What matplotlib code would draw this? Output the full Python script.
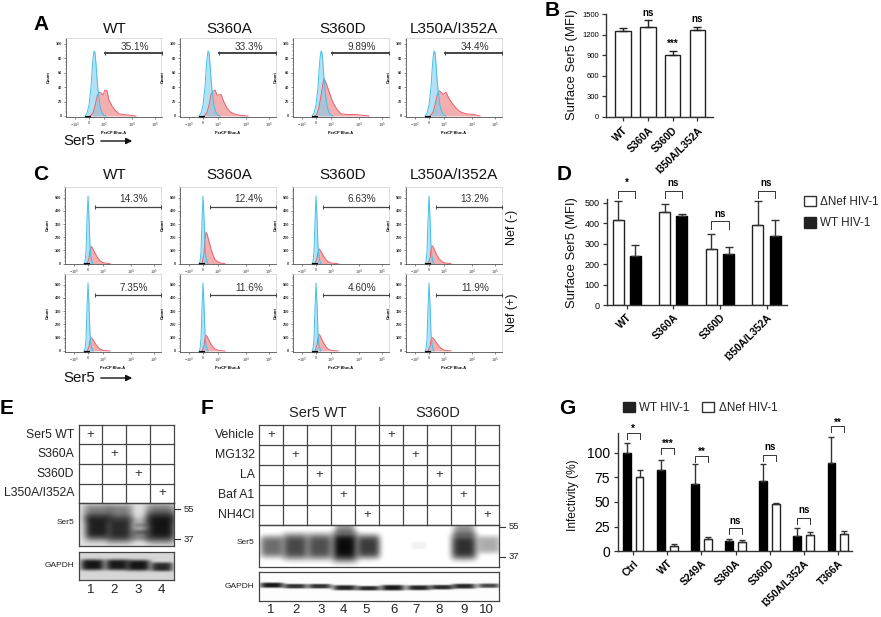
import matplotlib
matplotlib.use("Agg")
import matplotlib.pyplot as plt
from matplotlib.patches import Patch
import numpy as np

plt.rcParams['font.family'] = ['Liberation Sans', 'DejaVu Sans']
plt.rcParams['mathtext.default'] = 'regular'

W, H = 881, 617

# ---- flow histograms, panel A (x = position on the display axis, y = % of max)
a_titles = ["WT", "S360A", "S360D", "L350A/I352A"]
a_gates = ["35.1%", "33.3%", "9.89%", "34.4%"]
a_blue_x = [19, 21, 23, 25, 26, 27, 28, 29, 30, 31, 32, 34, 36, 38, 40]
a_blue_y = [0, 4, 15, 40, 62, 80, 90, 88, 72, 52, 36, 14, 5, 1, 0]
a_red_x_wt = [24, 27, 29, 31, 33, 35, 37, 39, 41, 43, 46, 49, 53, 58, 64, 70]
a_red_y_wt = [0, 4, 14, 27, 33, 32, 29, 36, 35, 22, 14, 8, 3, 2, 1, 0]
a_red_x_a = [24, 27, 29, 31, 33, 35, 37, 39, 41, 44, 47, 50, 54, 60, 68]
a_red_y_a = [0, 5, 15, 30, 34, 36, 29, 29, 30, 19, 11, 6, 3, 1, 0]
a_red_x_d = [22, 24, 26, 28, 30, 31, 33, 35, 37, 39, 41, 44, 48, 54, 62, 70, 76]
a_red_y_d = [0, 3, 12, 28, 45, 52, 46, 38, 30, 22, 16, 9, 3, 2, 2, 1, 0]
a_red_x_l = [24, 27, 29, 31, 33, 35, 37, 39, 40, 42, 44, 46, 50, 54, 60, 68, 74]
a_red_y_l = [0, 5, 15, 28, 35, 33, 30, 32, 33, 27, 22, 18, 11, 6, 3, 2, 0]
a_red = [(a_red_x_wt, a_red_y_wt), (a_red_x_a, a_red_y_a), (a_red_x_d, a_red_y_d), (a_red_x_l, a_red_y_l)]

# ---- flow histograms, panel C (counts)
c_gates_top = ["14.3%", "12.4%", "6.63%", "13.2%"]
c_gates_bottom = ["7.35%", "11.6%", "4.60%", "11.9%"]
c_blue_x = [19, 20, 21, 22, 23, 24, 25, 26, 27, 28]
c_blue_y = [0, 15, 90, 330, 513, 350, 130, 50, 15, 0]
c_red_x = [22, 24, 25, 26, 27, 29, 31, 33, 35, 38, 42, 45]
c_red_top = [[0, 40, 100, 130, 125, 95, 65, 40, 22, 8, 2, 0],
             [0, 80, 190, 240, 225, 170, 110, 65, 30, 12, 3, 0],
             [0, 40, 85, 112, 105, 78, 52, 30, 15, 5, 1, 0],
             [0, 40, 105, 135, 128, 95, 62, 38, 20, 7, 2, 0]]
c_red_bottom = [[0, 30, 80, 100, 95, 72, 48, 28, 14, 5, 1, 0],
                [0, 40, 95, 118, 110, 80, 50, 30, 15, 5, 1, 0],
                [0, 45, 100, 125, 118, 85, 55, 32, 15, 5, 1, 0],
                [0, 35, 80, 102, 98, 78, 55, 35, 20, 7, 2, 0]]

# ---- bar panels
b_labels = ["WT", "S360A", "S360D", "I350A/L352A"]
b_values = [1250, 1310, 910, 1270]
b_errors = [50, 110, 50, 50]
b_marks = ["", "ns", "***", "ns"]

d_labels = ["WT", "S360A", "S360D", "I350A/L352A"]
d_dnef = [415, 455, 275, 390]
d_dnef_err = [95, 40, 75, 122]
d_wt = [240, 435, 250, 338]
d_wt_err = [53, 13, 35, 80]
d_marks = ["*", "ns", "ns", "ns"]
d_bracket_top = [560, 560, 412, 560]

g_labels = ["Ctrl", "WT", "S249A", "S360A", "S360D", "I350A/L352A", "T366A"]
g_wt = [100, 82, 68, 10.5, 71, 15.5, 89]
g_wt_err = [10, 11, 20, 1.5, 17, 8.5, 27]
g_dnef = [75.5, 5, 12, 9, 48, 16.5, 18]
g_dnef_err = [7, 2.5, 2, 2, 1, 3.5, 3]
g_marks = ["*", "***", "**", "ns", "ns", "ns", "**"]
g_bracket_top = [120, 105, 97, 23.3, 98, 34, 126.5]

# ---- blots: darkness of each band, 0 to 1
e_rows = ["Ser5 WT", "S360A", "S360D", "L350A/I352A"]
e_lanes = ["1", "2", "3", "4"]
e_ser5_level = [0.9, 0.85, 0.25, 0.95]
e_gapdh_level = [0.95, 0.93, 0.95, 0.85]
f_rows = ["Vehicle", "MG132", "LA", "Baf A1", "NH4Cl"]
f_lanes = ["1", "2", "3", "4", "5", "6", "7", "8", "9", "10"]
f_ser5_level = [0.6, 0.75, 0.72, 1.0, 0.8, 0, 0.07, 0, 0.85, 0.35]
f_gapdh_level = [0.95, 0.85, 0.85, 0.9, 0.88, 0.95, 0.9, 0.88, 0.88, 0.75]

fig = plt.figure(figsize=(W / 100, H / 100), dpi=100)


def px_axes(l, t, r, b, **kw):
    return fig.add_axes([l / W, 1 - b / H, (r - l) / W, (b - t) / H], **kw)


ov = fig.add_axes([0, 0, 1, 1], zorder=10)
ov.set_xlim(0, W)
ov.set_ylim(H, 0)
ov.axis("off")
ov.patch.set_alpha(0)


def txt(x, y, s, size=10, ha="center", va="center", **kw):
    ov.text(x, y, s, fontsize=size, ha=ha, va=va, color=kw.pop("color", "#111111"), **kw)


for s, x, y in [("A", 41, 25), ("B", 552, 10), ("C", 41, 175), ("D", 564, 175),
                ("E", 7, 409), ("F", 207, 409), ("G", 567, 409)]:
    txt(x, y, s, size=15, fontweight="bold", color="black")


def histogram(left, top, bottom, ylim, yticks, blue, red, gate, gate_x, gate_y, text_y, gate_lw):
    ax = px_axes(left, top, left + 95.5, bottom)
    ax.fill_between(red[0], red[1], color="#f09a9b", alpha=0.8, lw=0)
    ax.plot(red[0], red[1], color="#e8606a", lw=0.7)
    ax.fill_between(blue[0], blue[1], color="#83cfec", alpha=0.62, lw=0)
    ax.plot(blue[0], blue[1], color="#45bfe8", lw=0.7)
    ax.set_xlim(0, 95.5)
    ax.set_ylim(*ylim)
    ax.set_xticks([9, 23, 38, 66, 89])
    ax.set_xticklabels(["$-10^3$", "0", "$10^3$", "$10^4$", "$10^5$"], fontsize=2.8)
    ax.set_yticks(yticks)
    ax.set_yticklabels(yticks, fontsize=2.8, fontweight="bold")
    ax.tick_params(length=1.5, width=0.4, pad=1.5, color="#333333", labelcolor="#333333")
    ax.minorticks_on()
    ax.tick_params(which="minor", length=0.8, width=0.3, color="#444444")
    for side in ["top", "right"]:
        ax.spines[side].set_color("#cccccc")
        ax.spines[side].set_linewidth(0.5)
    for side in ["left", "bottom"]:
        ax.spines[side].set_color("#555555")
        ax.spines[side].set_linewidth(0.6)
    ax.plot([20, 24], [ylim[0], ylim[0]], color="black", lw=1.5, clip_on=False)
    ax.set_xlabel("PerCP Blue-A", fontsize=2.8, fontweight="bold", labelpad=0.5)
    ax.set_ylabel("Count", fontsize=3, fontweight="bold", labelpad=3)
    ov.plot([left + gate_x, left + 95.5], [gate_y, gate_y], color="#444444", lw=gate_lw,
            marker="|", ms=2.5, mew=0.7)
    txt(left + 69, text_y, gate, size=7.2, color="#333333")


a_left = [66, 180, 293, 406]
c_left = [65, 180, 293, 406]
title_x = [115, 229, 343, 454]
for i in range(4):
    txt(title_x[i], 29, a_titles[i], size=11)
    txt(title_x[i], 175, a_titles[i], size=11)
    histogram(a_left[i], 38, 117, (-1.4, 108), [0, 20, 40, 60, 80, 100], (a_blue_x, a_blue_y),
              a_red[i], a_gates[i], 39, 52.7, 47, 1.4)
    histogram(c_left[i], 187, 264, (-3, 581), [0, 100, 200, 300, 400, 500], (c_blue_x, c_blue_y),
              (c_red_x, c_red_top[i]), c_gates_top[i], 30, 207, 199, 0.9)
    histogram(c_left[i], 274, 352, (-8, 581), [0, 100, 200, 300, 400, 500], (c_blue_x, c_blue_y),
              (c_red_x, c_red_bottom[i]), c_gates_bottom[i], 30, 294.7, 288, 0.9)

for y in [141, 378]:
    txt(63, y, "Ser5", size=10.8, ha="left")
    ov.annotate("", xy=(135, y), xytext=(98, y),
                arrowprops=dict(arrowstyle="-|>", color="#111111", lw=1, mutation_scale=9))
txt(512, 227, "Nef (-)", size=9, rotation=90)
txt(512, 313, "Nef (+)", size=9, rotation=90)


def style_bars(ax, labels, ticks):
    for side in ["top", "right"]:
        ax.spines[side].set_visible(False)
    for side in ["left", "bottom"]:
        ax.spines[side].set_linewidth(1)
        ax.spines[side].set_color("#333333")
    ax.set_xticks(ticks)
    ax.set_xticklabels(labels, rotation=45, ha="right", rotation_mode="anchor",
                       fontsize=7.4, fontweight="bold")
    ax.tick_params(width=0.9, length=3, color="#333333", pad=2)
    ax.patch.set_alpha(0)


# ---- B
ax = px_axes(606, 14.3, 713, 116.7)
xb = np.arange(4)
ax.bar(xb, b_values, width=0.63, color="white", edgecolor="#222222", lw=1,
       yerr=[np.zeros(4), b_errors], ecolor="#222222", error_kw=dict(lw=1, capsize=3, capthick=1))
ax.set_xlim(-0.686, 3.63)
ax.set_ylim(0, 1500)
ax.set_yticks([0, 300, 600, 900, 1200, 1500])
style_bars(ax, b_labels, xb)
ax.tick_params(axis="y", labelsize=5.5, pad=2)
ax.tick_params(axis="x", pad=3)
for i, m in enumerate(b_marks):
    top = b_values[i] + b_errors[i]
    ax.text(i, top + 105, m, ha="center", va="center", fontsize=7,
            fontweight="bold", clip_on=False)
txt(572, 65, "Surface Ser5 (MFI)", size=9.4, rotation=90)

# ---- D
ax = px_axes(606.7, 199.3, 787, 305.3)
xd = np.arange(4)
off, wd = 0.186, 0.236
ax.bar(xd - off, d_dnef, width=wd, color="white", edgecolor="#222222", lw=1,
       yerr=[np.zeros(4), d_dnef_err], ecolor="#333333", error_kw=dict(lw=1, capsize=3, capthick=1))
ax.bar(xd + off, d_wt, width=wd, color="black", edgecolor="black", lw=1,
       yerr=[np.zeros(4), d_wt_err], ecolor="#333333", error_kw=dict(lw=1, capsize=3, capthick=1))
ax.set_xlim(-0.43, 3.44)
ax.set_ylim(0, 518)
ax.set_yticks([0, 100, 200, 300, 400, 500])
style_bars(ax, d_labels, xd)
ax.tick_params(axis="y", labelsize=6.5, pad=2)
for i, m in enumerate(d_marks):
    t = d_bracket_top[i]
    ax.plot([i - off, i - off, i + off, i + off], [t - 38, t, t, t - 38], color="#333333", lw=0.7, clip_on=False)
    ax.text(i, t + 36, m, ha="center", va="center", fontsize=7, fontweight="bold", clip_on=False)
txt(572, 253, "Surface Ser5 (MFI)", size=9.4, rotation=90)
leg = [Patch(facecolor="white", edgecolor="#333333", label="\u0394Nef HIV-1"),
       Patch(facecolor="#222222", edgecolor="#222222", label="WT HIV-1")]
fig.legend(handles=leg, loc="upper left", bbox_to_anchor=(804 / W, 1 - 196 / H), frameon=False, fontsize=8.4,
           handlelength=1.0, handleheight=1.0, handletextpad=0.4, labelspacing=0.76, borderpad=0, borderaxespad=0,
           labelcolor="#222222")

# ---- G
ax = px_axes(618.3, 432.7, 851.7, 551.3)
xg = np.arange(7)
off, wd = 0.186, 0.225
ax.bar(xg - off, g_wt, width=wd, color="black", edgecolor="black", lw=1,
       yerr=[np.zeros(7), g_wt_err], ecolor="#333333", error_kw=dict(lw=1, capsize=2.5, capthick=1))
ax.bar(xg + off, g_dnef, width=wd, color="white", edgecolor="#222222", lw=1,
       yerr=[np.zeros(7), g_dnef_err], ecolor="#333333", error_kw=dict(lw=1, capsize=2.5, capthick=1))
ax.set_xlim(-0.44, 6.41)
ax.set_ylim(0, 120.2)
ax.set_yticks([0, 25, 50, 75, 100])
style_bars(ax, g_labels, xg)
ax.tick_params(axis="y", labelsize=10, pad=3)
for i, m in enumerate(g_marks):
    t = g_bracket_top[i]
    ax.plot([i - off, i - off, i + off, i + off], [t - 6, t, t, t - 6], color="#333333", lw=0.7, clip_on=False)
    ax.text(i, t + (7.5 if m == "ns" else 4), m, ha="center", va="center", fontsize=7, fontweight="bold", clip_on=False)
txt(573, 495, "Infectivity (%)", size=8.6, rotation=90)
leg = [Patch(facecolor="#222222", edgecolor="#222222", label="WT HIV-1"),
       Patch(facecolor="white", edgecolor="#333333", label="\u0394Nef HIV-1")]
fig.legend(handles=leg, loc="upper left", bbox_to_anchor=(623 / W, 1 - 402 / H), frameon=False, fontsize=8.4, ncol=2,
           handlelength=1.0, handleheight=1.0, handletextpad=0.4, columnspacing=1.08, borderpad=0, borderaxespad=0,
           labelcolor="#222222")


def grid_table(xs, ys, rows):
    for x in xs:
        ov.plot([x, x], [ys[0], ys[-1]], color="#444444", lw=0.9)
    for y in ys:
        ov.plot([xs[0], xs[-1]], [y, y], color="#444444", lw=0.9)
    for i, row in enumerate(rows):
        txt(xs[0] - 4.5, (ys[i] + ys[i + 1]) / 2, row, size=8.8, ha="right", color="#222222")


def blot(l, t, r, b, levels, lane_x, lane_y, lane_w, lane_h, bg):
    # paint the bands into a small grayscale image
    xx, yy = np.meshgrid(np.arange(l, r, 0.5), np.arange(t, b, 0.5))
    dark = np.zeros_like(xx)
    for lev, cx, cy, w, h in zip(levels, lane_x, lane_y, lane_w, lane_h):
        band = np.exp(-np.abs((xx - cx) / w) ** 4 - np.abs((yy - cy) / h) ** 4)
        dark = 1 - (1 - dark) * (1 - lev * band)
    ax = px_axes(l, t, r, b)
    ax.imshow(bg * (1 - dark) + 0.04, cmap="gray", vmin=0, vmax=1, aspect="auto")
    ax.set_xticks([])
    ax.set_yticks([])
    for s in ax.spines.values():
        s.set_color("#444444")
        s.set_linewidth(0.9)


def marker(x, y, s):
    ov.plot([x, x + 5], [y, y], color="#333333", lw=0.8)
    txt(x + 9, y, s, size=6.8, ha="left", color="#222222")


# ---- E
ex = [78.7, 102.3, 126.3, 150.3, 174]
ey = [425, 444.3, 464, 483.7, 503]
grid_table(ex, ey, e_rows)
ecx = [91, 114, 137.7, 161]
for i in range(4):
    txt((ex[i] + ex[i + 1]) / 2, (ey[i] + ey[i + 1]) / 2, "+", size=9.5, color="#333333")
    txt(ecx[i], 590, e_lanes[i], size=9.5, color="#222222")
blot(78.7, 503, 174, 546,
     e_ser5_level + [0.45, 0.45, 0.3, 0.45, 0.18, 0.18],
     [97, 119, 140, 160, 97, 119, 140, 160, 140, 140],
     [527, 529, 528, 527, 513, 513, 535, 513, 525, 532],
     [13, 13, 10, 15, 14, 13, 11, 15, 6, 6],
     [13, 13, 11, 15, 9, 9, 6, 10, 2, 2], 0.84)
blot(78.7, 551.7, 174, 580, e_gapdh_level, [92, 116.7, 137.5, 161], [565, 565, 565.5, 567], [12, 12, 12, 11],
     [5.5, 5.5, 5.5, 4.5], 0.8)
marker(175, 509, "55")
marker(175, 539, "37")
txt(74, 523, "Ser5", size=6, ha="right", color="#222222")
txt(74, 565.7, "GAPDH", size=6, ha="right", color="#222222")

# ---- F
fx = [259, 283, 307, 331, 355, 379, 403, 427, 451, 475, 499]
fy = [425.3, 445.3, 465.3, 485, 505, 524.7]
grid_table(fx, fy, f_rows)
fcx = [271, 296, 321, 343, 366, 394.3, 415.7, 439.3, 464, 486.7]
for i in range(10):
    txt((fx[i] + fx[i + 1]) / 2, (fy[i % 5] + fy[i % 5 + 1]) / 2, "+", size=9.5, color="#333333")
    txt(fcx[i], 610, f_lanes[i], size=9.5, color="#222222")
ov.plot([379, 379], [407, 425.3], color="#555555", lw=0.9)
txt(318, 413, "Ser5 WT", size=10.5, color="#222222")
txt(437.7, 413, "S360D", size=10.5, color="#222222")
fbx = [271.7, 295, 319.3, 344.3, 367.7, 392, 418, 441, 463, 487.7]
blot(259, 524.7, 499, 566.7, f_ser5_level + [0.4, 0.45],
     fbx + [344.3, 463], [546, 546, 546, 546, 546, 546, 545, 546, 546, 544, 528, 530],
     [12, 13, 13, 13, 12, 10, 8, 10, 13, 12, 10, 11],
     [11, 13, 13, 15, 12, 8, 4, 8, 13, 9, 5, 6], 0.97)
blot(259, 572.3, 499, 600.7, f_gapdh_level,
     fbx, [585, 586, 586, 587.5, 588, 587.5, 587.5, 587, 586, 585.5],
     [12, 12, 12, 12, 12, 12, 12, 12, 12, 11],
     [2.6, 2.3, 2.3, 2.6, 2.3, 2.8, 2.5, 2.3, 2.5, 2.2], 0.95)
marker(500, 526.7, "55")
marker(500, 556.7, "37")
txt(254, 543, "Ser5", size=6, ha="right", color="#222222")
txt(254, 586, "GAPDH", size=6, ha="right", color="#222222")

fig.savefig("out.png", dpi=100)
plt.close()
